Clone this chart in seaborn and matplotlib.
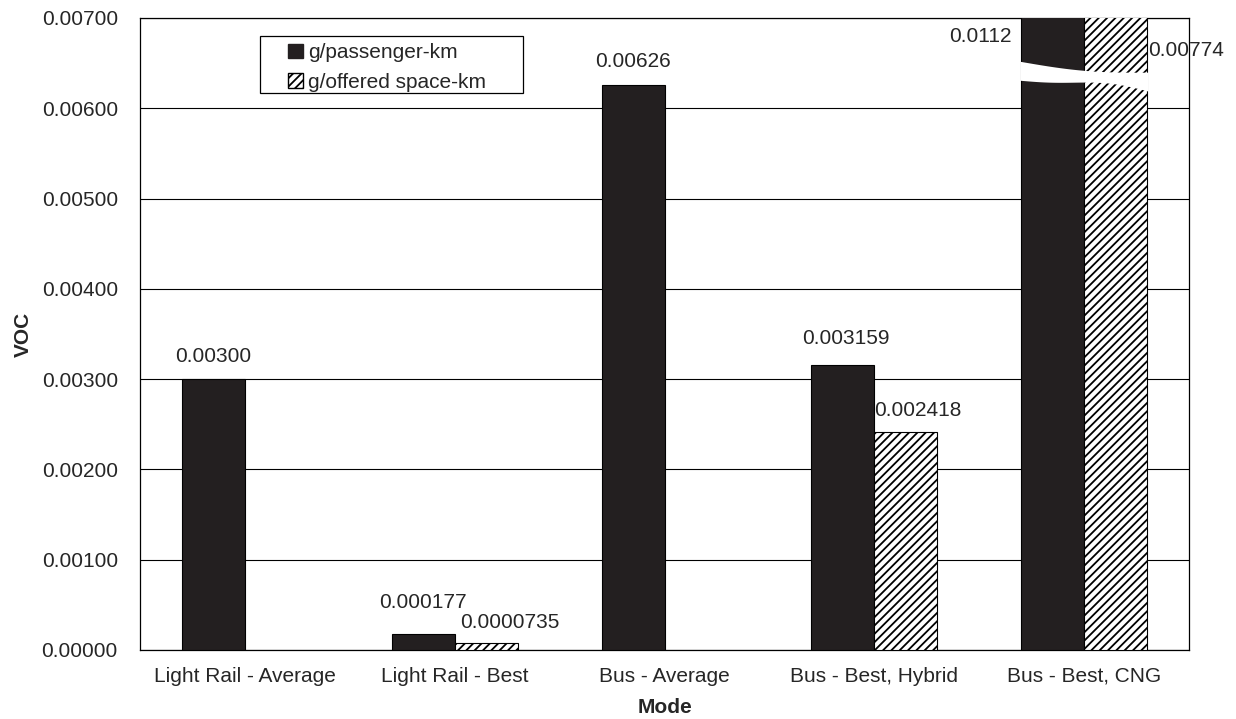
import matplotlib
matplotlib.use('Agg')
import matplotlib.pyplot as plt
import numpy as np
import pandas as pd
import seaborn as sns
from matplotlib.patches import Patch, Rectangle

modes = ['Light Rail - Average', 'Light Rail - Best', 'Bus - Average',
         'Bus - Best, Hybrid', 'Bus - Best, CNG']
series = ['g/passenger-km', 'g/offered space-km']
passenger = [0.00300, 0.000177, 0.00626, 0.003159, 0.0112]
offered = [np.nan, 0.0000735, np.nan, 0.002418, 0.00774]
passenger_labels = ['0.00300', '0.000177', '0.00626', '0.003159', '0.0112']
offered_labels = ['', '0.0000735', '', '0.002418', '0.00774']
y_max = 0.007
y_ticks = np.arange(0, 0.0071, 0.001)

FS = 15
DARK = '#231f20'

sns.set_style('white')
plt.rcParams['font.family'] = ['Liberation Sans', 'DejaVu Sans']
plt.rcParams['hatch.linewidth'] = 1.3

df = pd.DataFrame({
    'Mode': modes * 2,
    'series': [series[0]] * len(modes) + [series[1]] * len(modes),
    'VOC': passenger + offered,
})

fig, ax = plt.subplots(figsize=(12.36, 7.19), dpi=100)
fig.subplots_adjust(left=0.1133, right=0.962, top=0.975, bottom=0.096)

sns.barplot(data=df, x='Mode', y='VOC', hue='series', hue_order=series,
            palette=[DARK, 'white'], width=0.6, gap=0, saturation=1,
            edgecolor='black', linewidth=0.8, legend=False, ax=ax, zorder=3)

for bar in ax.containers[1]:
    bar.set_hatch('////')
    bar.set_facecolor('white')

ax.set_ylim(0, y_max)
ax.set_xlim(-0.5, len(modes) - 0.5)
ax.set_yticks(y_ticks)
ax.set_yticklabels([f'{v:.5f}' for v in y_ticks])
ax.yaxis.grid(True, color='black', linewidth=0.8)
ax.set_axisbelow(True)

ax.set_xticks(range(len(modes)))
ax.set_xticklabels(modes)
ax.set_xticks(np.arange(-0.5, len(modes)), minor=True)
ax.tick_params(axis='x', which='major', length=0, labelsize=FS, pad=12)
ax.tick_params(axis='x', which='minor', length=6, direction='out', color='black')
ax.tick_params(axis='y', length=6, direction='out', color='black', labelsize=FS, pad=10)

for s in ax.spines.values():
    s.set_color('black')
    s.set_linewidth(0.9)

ax.set_xlabel('Mode', fontsize=FS, fontweight='bold', labelpad=9)
ax.set_ylabel('VOC', fontsize=FS, fontweight='bold', labelpad=6)

# value labels (offsets in points: dx, dy above the bar top)
bw = 0.3
pass_off = {0: (0, 12), 1: (0, 19), 2: (0, 13), 3: (2, 15)}
offr_off = {1: (17, 11), 3: (9, 11)}
for i, (dx, dy) in pass_off.items():
    ax.annotate(passenger_labels[i], (i - bw / 2, passenger[i]), xytext=(dx, dy),
                textcoords='offset points', ha='center', va='baseline', fontsize=FS)
for i, (dx, dy) in offr_off.items():
    ax.annotate(offered_labels[i], (i + bw / 2, offered[i]), xytext=(dx, dy),
                textcoords='offset points', ha='center', va='baseline', fontsize=FS)

ax.text(4 - bw - 0.045, 0.00680, passenger_labels[4], ha='right', va='center', fontsize=FS)
ax.text(4 + bw + 0.005, 0.00664, offered_labels[4], ha='left', va='center', fontsize=FS)

# axis break on the clipped bars
xs = np.linspace(4 - bw - 0.005, 4 + bw + 0.005, 100)
t = (xs - xs[0]) / (xs[-1] - xs[0])
upper = 0.00652 - 0.00012 * t - 0.00004 * np.sin(np.pi * t)
lower = 0.00631 - 0.00012 * t + 0.00004 * np.sin(np.pi * t) - 0.00002 * np.sin(2 * np.pi * t)
ax.fill_between(xs, lower, upper, color='white', zorder=4, linewidth=0)

# legend
handles = [Patch(facecolor=DARK, edgecolor=DARK, label=series[0]),
           Patch(facecolor='white', edgecolor='black', hatch='////', label=series[1])]
leg = ax.legend(handles=handles, loc='upper left', bbox_to_anchor=(0.1411, 0.960),
                fontsize=FS, frameon=False, handlelength=0.72, handleheight=0.68,
                handletextpad=0.25, borderpad=0, labelspacing=0.5, borderaxespad=0)
leg.set_zorder(6)
ax.add_patch(Rectangle((0.1144, 0.8813), 0.2507, 0.0902, transform=ax.transAxes,
                       facecolor='white', edgecolor='black', linewidth=0.9, zorder=5))

fig.savefig('out.png', dpi=100)
